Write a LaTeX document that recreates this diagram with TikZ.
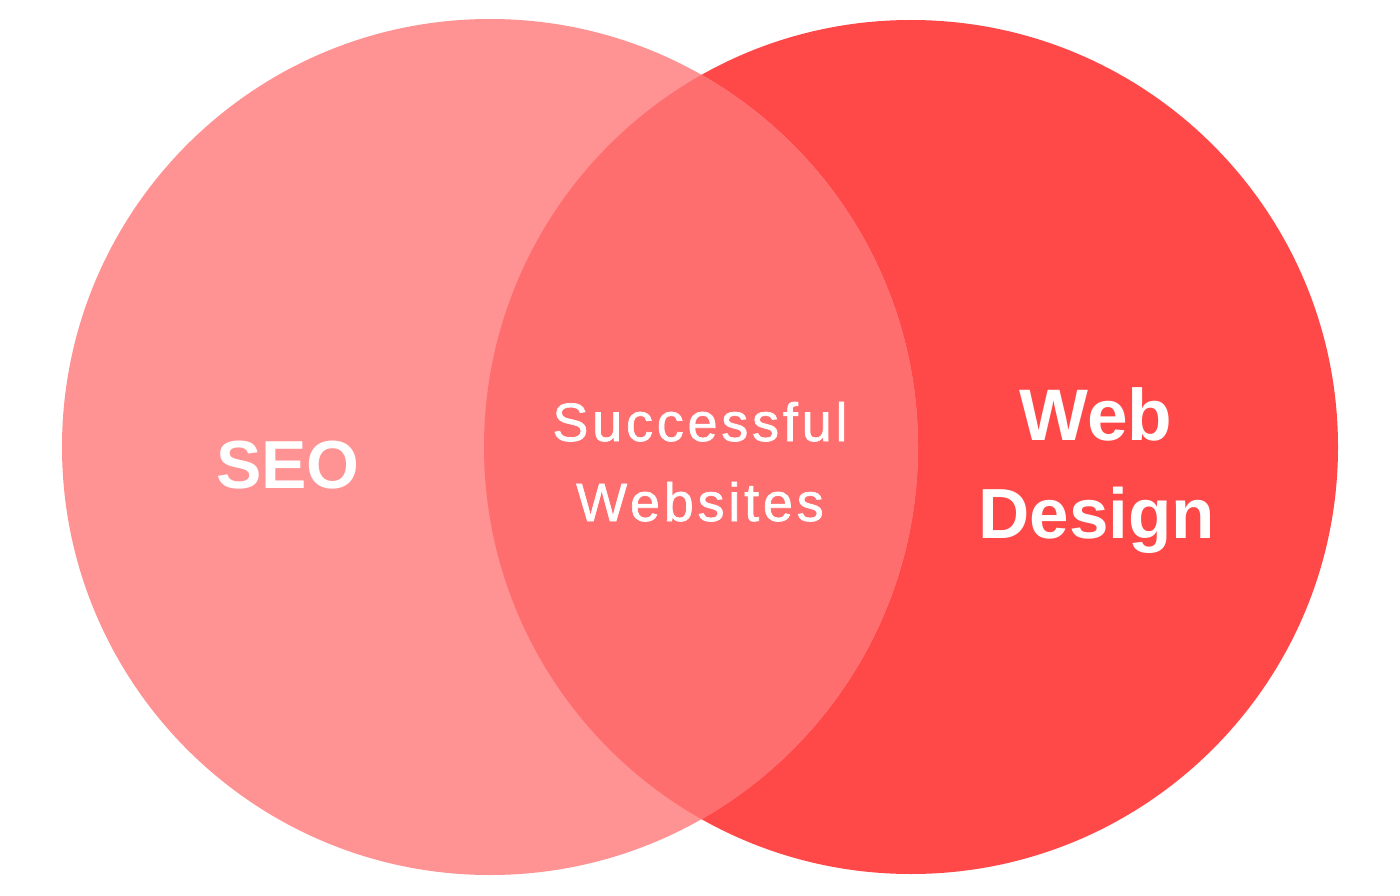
\documentclass[tikz,border=0pt]{standalone}
\usepackage{fontspec}
\setmainfont{Liberation Sans}
\newfontfamily\spacedfont[LetterSpace=7,FakeBold=1.2]{Liberation Sans}
\definecolor{seocol}{HTML}{FF9292}
\definecolor{webcol}{HTML}{FF4848}
\definecolor{bothcol}{HTML}{FF6E6E}
\begin{document}
\begin{tikzpicture}[x=1pt,y=-1pt,
  bigtxt/.style={text=white,font=\fontsize{71}{80}\selectfont\bfseries,inner sep=0pt,anchor=base},
  midtxt/.style={text=white,font=\fontsize{54}{60}\selectfont\spacedfont,inner sep=0pt,anchor=base}]
\useasboundingbox (0,0) rectangle (1400,896);
\fill[white] (0,0) rectangle (1400,896);
\coordinate (cl) at (490,447);
\coordinate (cr) at (911,447);
\fill[webcol] (cr) circle[radius=427];
\fill[seocol] (cl) circle[radius=428];
\begin{scope}
  \clip (cl) circle[radius=428];
  \fill[bothcol] (cr) circle[radius=427];
\end{scope}
\node[bigtxt,font=\fontsize{68}{80}\selectfont\bfseries] (seo) at (288,488) {SEO};
\node[bigtxt,font=\fontsize{73}{80}\selectfont\bfseries] (web) at (1096,440) {Web};
\node[bigtxt] (design) at (1097,538) {Design};
\node[midtxt] (succ) at (700,441) {Successful};
\node[midtxt] (sites) at (700,521) {Websites};
\end{tikzpicture}
\end{document}
